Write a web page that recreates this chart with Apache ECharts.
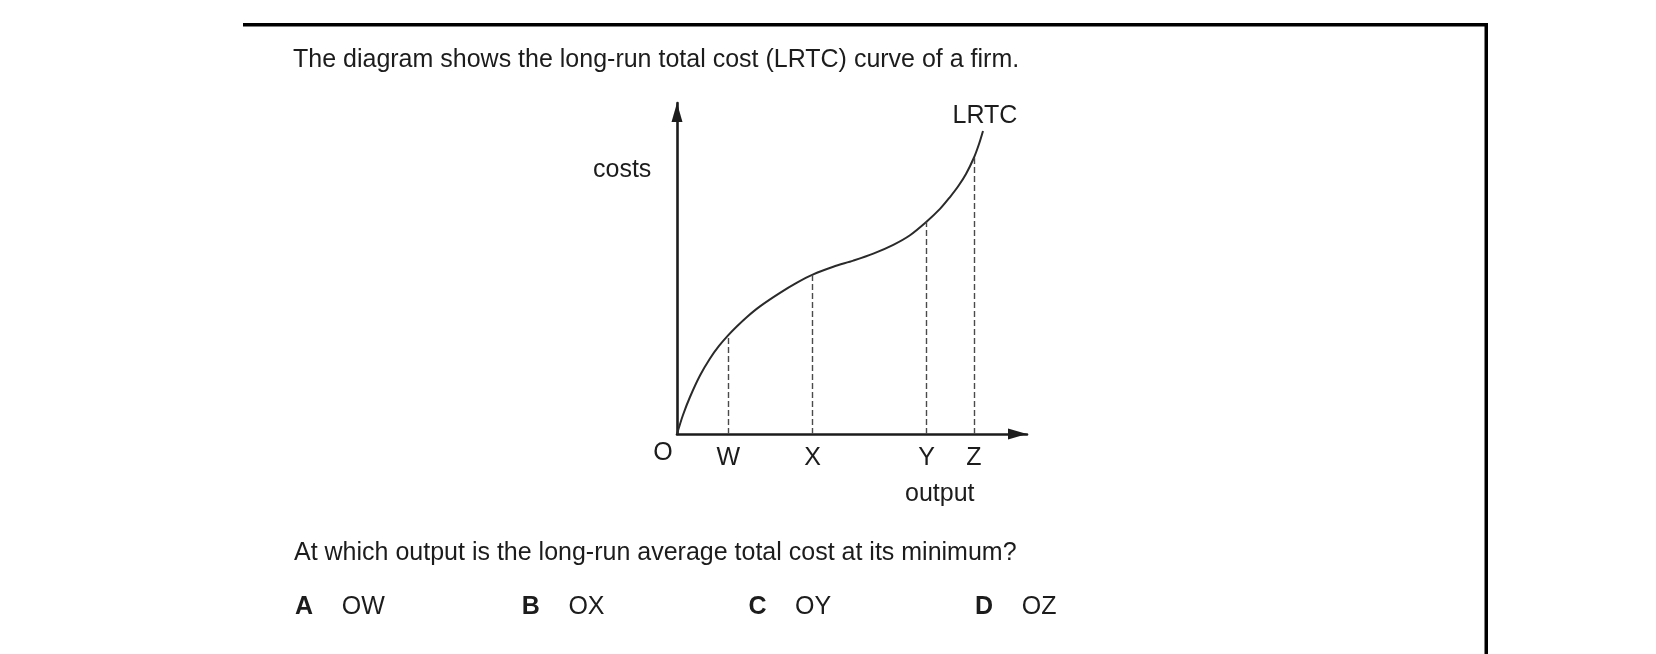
<!DOCTYPE html>
<html lang="en">
<head>
    <meta charset="UTF-8">
    <title>LRTC</title>
    <script src="https://cdn.jsdelivr.net/npm/echarts@6.0.0/dist/echarts.min.js"></script>
    <style>
        html, body { margin: 0; padding: 0; background: #fff; }
        #container { width: 1656px; height: 654px; }
    </style>
</head>
<body>
<div id="container"></div>
<script>
    // curve: output (0-100) vs costs (0-100)
    var outputVals = [0, 1.71, 3.71, 6.57, 9.43, 12.0, 14.66, 17.14, 19.91, 23.71, 29.43, 34.29, 38.77,
                      44.66, 50.37, 56.09, 61.80, 66.57, 71.29, 75.14, 78.0, 80.29, 82.57, 84.86, 86.29, 87.43];
    var costVals   = [0, 5.74, 11.18, 17.67, 22.81, 26.59, 29.85, 32.54, 35.29, 38.55, 42.63, 45.71, 48.13,
                      50.51, 52.39, 54.50, 57.16, 60.06, 64.14, 68.0, 71.6, 74.77, 78.55, 83.53, 87.61, 91.54];

    // the marked outputs and the cost where the dashed line meets the curve
    var markNames  = ['W', 'X', 'Y', 'Z'];
    var markOutput = [14.66, 38.77, 71.29, 84.86];
    var markCost   = [29.85, 48.13, 64.14, 83.53];

    var answerKeys = ['A', 'B', 'C', 'D'];
    var answerText = ['OW', 'OX', 'OY', 'OZ'];

    var FONT = '"Liberation Sans", Arial, sans-serif';
    var INK = '#1c1c1c';

    var curve = outputVals.map(function (x, i) { return [x, costVals[i]]; });
    var drops = markOutput.map(function (x, i) {
        return [{coord: [x, 0]}, {coord: [x, markCost[i]]}];
    });

    function txt(text, x, y, opts) {
        opts = opts || {};
        return {
            type: 'text', x: x, y: y, silent: true,
            style: {
                text: text, fill: INK,
                font: (opts.bold ? 'bold ' : '') + '25px ' + FONT,
                align: opts.align || 'left', verticalAlign: 'middle'
            }
        };
    }

    var graphics = [
        {type: 'rect', silent: true, shape: {x: 243, y: 23, width: 1245, height: 3.5}, style: {fill: '#000'}},
        {type: 'rect', silent: true, shape: {x: 1484.5, y: 23, width: 3.5, height: 640}, style: {fill: '#000'}},
        txt('The diagram shows the long-run total cost (LRTC) curve of a firm.', 293, 60),
        txt('At which output is the long-run average total cost at its minimum?', 294, 553),
        txt('costs', 593, 170),
        txt('LRTC', 985, 116, {align: 'center'}),
        txt('O', 663, 453, {align: 'center'}),
        txt('output', 905, 494)
    ];
    for (var i = 0; i < answerKeys.length; i++) {
        graphics.push(txt(answerKeys[i], 295 + i * 226.7, 607, {bold: true}));
        graphics.push(txt(answerText[i], 341.7 + i * 226.7, 607));
    }

    var myChart = echarts.init(document.getElementById('container'));
    var option = {
        animation: false,
        grid: {left: 677, right: 629, top: 103, bottom: 220},
        xAxis: {
            type: 'value', min: 0, max: 100,
            splitLine: {show: false},
            axisTick: {show: false},
            axisLine: {
                lineStyle: {color: INK, width: 2.6},
                symbol: ['none', 'triangle'], symbolSize: [11, 19], symbolOffset: [0, -9.5]
            },
            axisLabel: {
                customValues: markOutput,
                margin: 12,
                color: INK, fontSize: 25, fontFamily: FONT,
                formatter: function (v) {
                    var k = markOutput.indexOf(v);
                    return k >= 0 ? markNames[k] : '';
                }
            }
        },
        yAxis: {
            type: 'value', min: 0, max: 100,
            splitLine: {show: false},
            axisTick: {show: false},
            axisLabel: {show: false},
            axisLine: {
                show: true,
                lineStyle: {color: INK, width: 2.6},
                symbol: ['none', 'triangle'], symbolSize: [11, 19], symbolOffset: [0, -9.5]
            }
        },
        series: [{
            type: 'line',
            data: curve,
            smooth: 0.3,
            showSymbol: false,
            silent: true,
            lineStyle: {color: '#2a2a2a', width: 2},
            markLine: {
                silent: true,
                symbol: ['none', 'none'],
                label: {show: false},
                lineStyle: {color: '#4a4a4a', width: 1.4, type: [6, 3]},
                data: drops
            }
        }],
        graphic: graphics
    };
    myChart.setOption(option);
</script>
</body>
</html>
